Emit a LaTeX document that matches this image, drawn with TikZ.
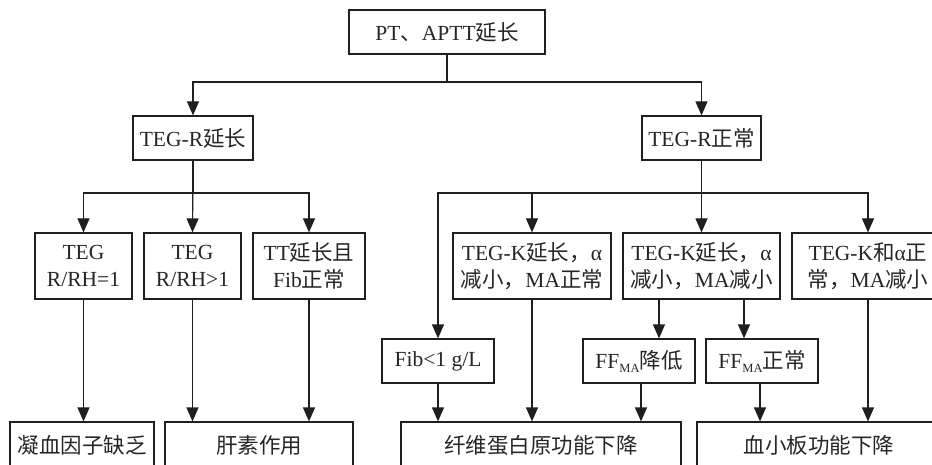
\documentclass[tikz,border=0pt]{standalone}
\usepackage{fontspec}
\setmainfont{Liberation Serif}
\newfontfamily\cjkfont{Noto Sans CJK SC}
\usetikzlibrary{arrows.meta}
\newcommand{\zh}[1]{{\cjkfont #1}}
\newcommand{\lowtag}[1]{\raisebox{-0.4ex}{\fontsize{12.5}{12.5}\selectfont #1}}
\begin{document}
\begin{tikzpicture}[x=1pt,y=-1pt,
  box/.style={draw=black!88, line width=1.2pt, inner sep=0pt, align=center,
    font=\fontsize{21.5}{27}\selectfont, text=black!85},
  arr/.style={draw=black!88, line width=1.2pt, -{Triangle[length=14pt,width=12pt]}},
  ln/.style={draw=black!88, line width=1.2pt}]
\useasboundingbox (0,0) rectangle (932,465);
\fill[white] (0,0) rectangle (932,465);

% top level
\node[box, minimum width=196pt, minimum height=44pt] (top) at (447,32) {PT\zh{、}APTT\zh{延长}};
% second level
\node[box, minimum width=120pt, minimum height=44pt] (rl) at (193,138) {TEG-R\zh{延长}};
\node[box, minimum width=119pt, minimum height=44pt] (rn) at (701.5,138) {TEG-R\zh{正常}};
% third level
\node[box, minimum width=97pt,  minimum height=66pt] (b1) at (83.5,266) {TEG\\R/RH=1};
\node[box, minimum width=97pt,  minimum height=66pt] (b2) at (192.5,266) {TEG\\R/RH\textgreater1};
\node[box, minimum width=112pt, minimum height=66pt] (b3) at (309,266) {TT\zh{延长且}\\Fib\zh{正常}};
\node[box, minimum width=158pt, minimum height=66pt] (b4) at (532,266) {TEG-K\zh{延长，}α\\\zh{减小，}MA\zh{正常}};
\node[box, minimum width=157pt, minimum height=66pt] (b5) at (701.5,266) {TEG-K\zh{延长，}α\\\zh{减小，}MA\zh{减小}};
\node[box, minimum width=152pt, minimum height=66pt] (b6) at (868,266) {TEG-K\zh{和}α\zh{正}\\\zh{常，}MA\zh{减小}};
% fourth level
\node[box, minimum width=112pt, minimum height=44pt] (fib) at (438,361) {Fib\textless1 g/L};
\node[box, minimum width=112pt, minimum height=44pt] (ffa) at (639,361) {FF\lowtag{MA}\zh{降低}};
\node[box, minimum width=112pt, minimum height=44pt] (ffb) at (762,361) {FF\lowtag{MA}\zh{正常}};
% outcomes
\node[box, minimum width=144pt, minimum height=46pt] (e1) at (82,445) {\zh{凝血因子缺乏}};
\node[box, minimum width=188pt, minimum height=46pt] (e2) at (259,445) {\zh{肝素作用}};
\node[box, minimum width=280pt, minimum height=46pt] (e3) at (541,445) {\zh{纤维蛋白原功能下降}};
\node[box, minimum width=244pt, minimum height=46pt] (e4) at (819,445) {\zh{血小板功能下降}};

% column positions for the side connectors
\coordinate (xa) at (659,0);
\coordinate (xb) at (744,0);
\coordinate (xc) at (641,0);
\coordinate (xd) at (760,0);
\coordinate (bus1) at (0,82);
\coordinate (bus2) at (0,193);

% top split
\draw[ln] (top.south) -- (top.south |- bus1);
\draw[arr] (top.south |- bus1) -| (rl.north);
\draw[arr] (top.south |- bus1) -| (rn.north);

% left branch
\draw[ln] (rl.south) -- (rl.south |- bus2);
\draw[arr] (rl.south |- bus2) -| (b1.north);
\draw[arr] (rl.south) -- (b2.north);
\draw[arr] (rl.south |- bus2) -| (b3.north);

% right branch
\draw[ln] (rn.south) -- (rn.south |- bus2);
\draw[arr] (rn.south |- bus2) -| (fib.north);
\draw[arr] (rn.south |- bus2) -| (b4.north);
\draw[arr] (rn.south) -- (b5.north);
\draw[arr] (rn.south |- bus2) -| (b6.north);

% down to fourth level
\draw[arr] (xa |- b5.south) -- (xa |- ffa.north);
\draw[arr] (xb |- b5.south) -- (xb |- ffb.north);

% down to outcomes
\draw[arr] (b1.south) -- (b1.south |- e1.north);
\draw[arr] (b2.south) -- (b2.south |- e2.north);
\draw[arr] (b3.south) -- (b3.south |- e2.north);
\draw[arr] (fib.south) -- (fib.south |- e3.north);
\draw[arr] (b4.south) -- (b4.south |- e3.north);
\draw[arr] (xc |- ffa.south) -- (xc |- e3.north);
\draw[arr] (xd |- ffb.south) -- (xd |- e4.north);
\draw[arr] (b6.south) -- (b6.south |- e4.north);
\end{tikzpicture}
\end{document}
